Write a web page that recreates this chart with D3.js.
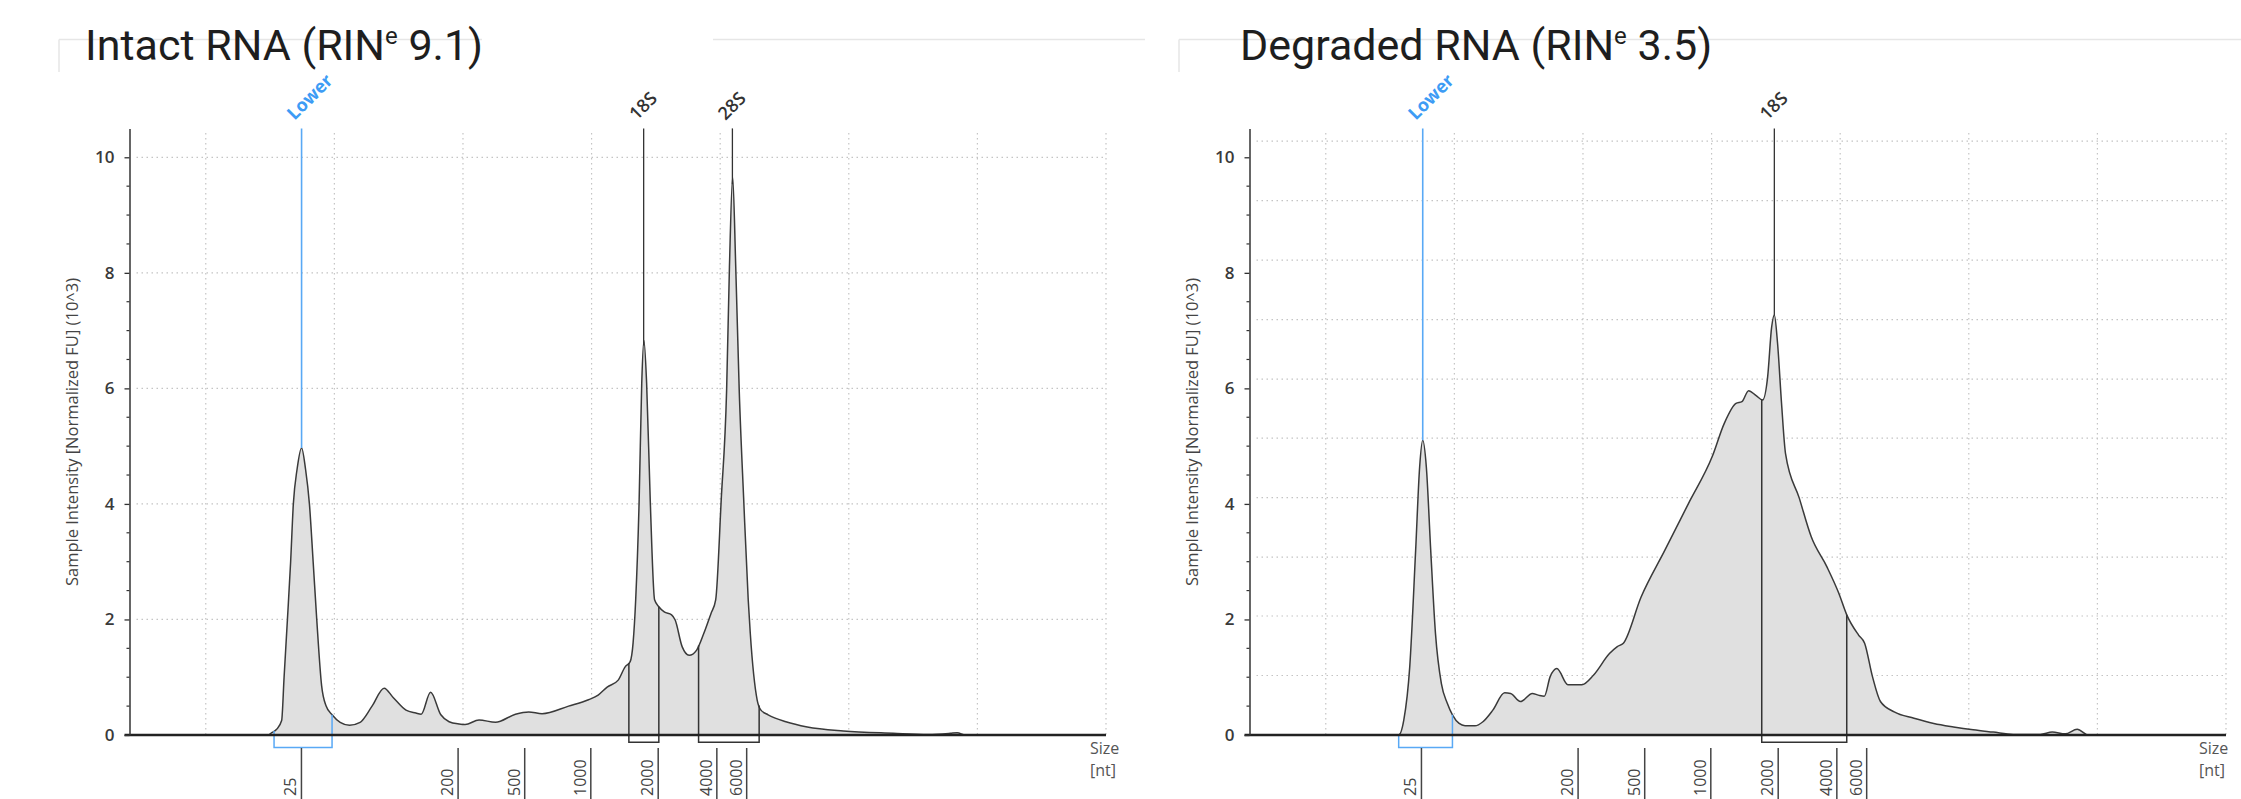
<!DOCTYPE html>
<html>
<head>
<meta charset="utf-8">
<script src="https://cdn.jsdelivr.net/npm/d3@7"></script>
<style>
  body { margin: 0; background: #fff; }
  svg { display: block; }
</style>
</head>
<body>
<svg id="chart" width="2241" height="799"></svg>
<script>
// migration position in grid units (one dotted vertical line every 10), intensity in 10^3 normalized FU
const intactPos = [-5.93, 4.85, 5.13, 5.51, 5.9, 6.09, 6.35, 6.6, 6.81, 7.1, 7.45, 7.76, 8.06, 8.35, 8.63, 9.01, 9.36, 9.82,
  10.45, 11.18, 12.0, 12.93, 13.87, 14.57, 15.57, 16.34, 16.75, 17.48, 18.28, 18.92, 19.7, 20.17, 21.25, 22.53, 24.08,
  25.11, 26.15, 28.21, 29.76, 30.51, 31.21, 32.07, 32.61, 33.0, 33.23, 33.43, 33.7, 33.9, 34.07, 34.28, 34.56, 34.9,
  35.23, 35.65, 36.22, 36.5, 37.04, 37.59, 38.17, 38.73, 39.28, 39.65, 40.08, 40.5, 40.72, 40.97, 41.21, 41.48, 41.83,
  42.18, 42.34, 42.88, 43.17, 43.73, 45.11, 46.77, 49.57, 53.46, 56.18, 57.89, 58.43, 59.06, 70];
const intactFU = [0, 0, 0.04, 0.1, 0.25, 1.0, 2.0, 3.0, 4.0, 4.6, 4.97, 4.6, 4.0, 3.0, 2.0, 0.85, 0.5, 0.35,
  0.22, 0.17, 0.22, 0.5, 0.81, 0.65, 0.43, 0.38, 0.36, 0.74, 0.35, 0.23, 0.19, 0.18, 0.26, 0.22, 0.36,
  0.40, 0.37, 0.50, 0.61, 0.69, 0.83, 0.95, 1.18, 1.27, 1.6, 2.34, 4.07, 6.09, 6.83, 6.09, 4.07, 2.34,
  2.22, 2.13, 2.08, 1.99, 1.53, 1.38, 1.47, 1.76, 2.1, 2.34, 4.07, 5.97, 8.1, 9.66, 8.1, 5.97, 4.07,
  2.34, 1.76, 0.6, 0.43, 0.35, 0.23, 0.14, 0.07, 0.03, 0.01, 0.03, 0.04, 0, 0];

const degradedPos = [-5.93, 5.67, 6.07, 6.53, 6.99, 7.3, 7.54, 7.82, 8.16, 8.53, 8.99, 9.45, 9.85, 10.37, 10.83, 11.6,
  12.22, 12.99, 13.91, 14.37, 15.14, 16.06, 16.53, 16.99, 17.45, 17.97, 18.83, 19.91, 20.83, 22.06, 22.67, 23.14,
  24.52, 26.37, 28.21, 30.05, 30.98, 31.9, 32.36, 32.88, 33.44, 33.97, 34.36, 34.67, 34.88, 35.13, 35.44, 35.75,
  36.82, 37.75, 38.97, 39.9, 40.51, 41.43, 41.9, 42.51, 43.13, 44.2, 45.74, 47.28, 48.81, 50.35, 51.89, 53.46,
  55.56, 56.49, 57.5, 58.43, 59.29, 70];
const degradedFU = [0, 0, 0.26, 1.18, 3.2, 4.64, 5.1, 4.64, 3.2, 1.76, 0.89, 0.55, 0.35, 0.2, 0.16, 0.16,
  0.23, 0.43, 0.73, 0.72, 0.58, 0.72, 0.69, 0.67, 1.01, 1.15, 0.87, 0.87, 1.04, 1.41, 1.53, 1.59,
  2.39, 3.2, 4.01, 4.82, 5.39, 5.74, 5.77, 5.96, 5.88, 5.80, 6.2, 7.06, 7.27, 6.78, 5.74, 4.87,
  4.1, 3.43, 2.91, 2.45, 2.08, 1.73, 1.59, 1.01, 0.58, 0.40, 0.29, 0.2, 0.14, 0.09, 0.05, 0.01,
  0.01, 0.05, 0.02, 0.1, 0, 0];

const intactPeaks = ['Lower', '18S', '28S'];
const intactPeakPos = [7.45, 34.05, 40.95];
const intactRegions = [[5.31, 9.82], [32.9, 35.23], [38.32, 43.03]];

const degradedPeaks = ['Lower', '18S'];
const degradedPeakPos = [7.54, 34.88];
const degradedRegions = [[5.67, 9.85], [33.9, 40.51]];

const ladderSizes = ['25', '200', '500', '1000', '2000', '4000', '6000'];
const ladderPos = [7.44, 19.62, 24.8, 29.94, 35.18, 39.74, 42.06];

const xGrid = [0, 10, 20, 30, 40, 50, 60, 70];
const yTicks = [0, 2, 4, 6, 8, 10];
const intactYGrid = [2, 4, 6, 8, 10];
const degradedYGrid = [1.03, 2.06, 3.08, 4.11, 5.14, 6.16, 7.19, 8.22, 9.25, 10.28];

const svg = d3.select('#chart');

// faint frame edges of the pasted screenshots
const frame = svg.append('g').attr('stroke', '#e6e6e6').attr('stroke-width', 1.5);
[[59, 482], [713, 1145], [1179, 2241]].forEach(([a, b]) => {
    frame.append('line').attr('x1', a).attr('x2', b).attr('y1', 39.5).attr('y2', 39.5);
});
[59, 1179].forEach(xx => {
    frame.append('line').attr('x1', xx).attr('x2', xx).attr('y1', 39.5).attr('y2', 72);
});

function valueAt(pos, vals, p) {
    const i = Math.max(1, Math.min(pos.length - 1, d3.bisectRight(pos, p)));
    const t = (p - pos[i - 1]) / (pos[i] - pos[i - 1]);
    return vals[i - 1] + t * (vals[i] - vals[i - 1]);
}

function drawPanel(options) {
    const { dx, title, ver, pos, vals, peaks, peakPos, regions, yGrid, sizeX } = options;
    const g = svg.append('g').attr('transform', `translate(${dx},0)`);

    const x = d3.scaleLinear().domain([-5.93, 70]).range([129.5, 1106]);
    const y = d3.scaleLinear().domain([0, 10.5]).range([735, 128.4]);

    // title
    const t = g.append('text')
        .attr('x', options.titleX).attr('y', 60)
        .style('font-family', 'Roboto, sans-serif')
        .style('font-size', '43px')
        .style('fill', '#1e1e1e');
    t.append('tspan').text(title + ' (RIN');
    t.append('tspan').attr('dy', -16).style('font-size', '24px').text('e');
    t.append('tspan').attr('dy', 16).text(' ' + ver + ')');

    // grid
    const grid = g.append('g')
        .attr('stroke', '#c4c4c4')
        .attr('stroke-width', 1.2)
        .attr('stroke-dasharray', '1.5,3.5');
    grid.selectAll('.vg').data(xGrid).join('line')
        .attr('x1', d => x(d)).attr('x2', d => x(d))
        .attr('y1', 133).attr('y2', y(0));
    grid.selectAll('.hg').data(yGrid).join('line')
        .attr('x1', x(-5.93) + 7).attr('x2', x(70))
        .attr('y1', d => y(d)).attr('y2', d => y(d));

    // trace
    const area = d3.area()
        .x((d, i) => x(pos[i]))
        .y0(y(0))
        .y1(d => y(d))
        .curve(d3.curveMonotoneX);
    const line = d3.line()
        .x((d, i) => x(pos[i]))
        .y(d => y(d))
        .curve(d3.curveMonotoneX);
    g.append('path').datum(vals).attr('d', area).attr('fill', '#e0e0e0');
    g.append('path').datum(vals).attr('d', line)
        .attr('fill', 'none').attr('stroke', '#3a3a3a').attr('stroke-width', 1.5);

    // peak regions
    regions.forEach(([a, b], i) => {
        const bottom = i === 0 ? 747.5 : 742.3;
        const path = d3.path();
        path.moveTo(x(a), y(valueAt(pos, vals, a)));
        path.lineTo(x(a), bottom);
        path.lineTo(x(b), bottom);
        path.lineTo(x(b), y(valueAt(pos, vals, b)));
        g.append('path').attr('d', path.toString())
            .attr('fill', 'none')
            .attr('stroke', i === 0 ? '#59a9f5' : '#333')
            .attr('stroke-width', 1.5);
    });

    // baseline
    g.append('line')
        .attr('x1', x(-5.93) - 5).attr('x2', x(70))
        .attr('y1', y(0)).attr('y2', y(0))
        .attr('stroke', '#222').attr('stroke-width', 2.4);

    // y axis
    const yAxis = g.append('g')
        .attr('transform', `translate(${x(-5.93)},0)`)
        .call(d3.axisLeft(y).tickValues(yTicks).tickSize(5).tickSizeOuter(0).tickPadding(10));
    yAxis.select('.domain').attr('stroke', '#333').attr('stroke-width', 1.5);
    yAxis.selectAll('.tick line').attr('stroke', '#333').attr('stroke-width', 1.3);
    yAxis.selectAll('.tick text')
        .style('font-family', '"Open Sans", sans-serif')
        .style('font-size', '17px')
        .style('font-weight', 600)
        .style('fill', '#3a3a3a');
    g.append('g').selectAll('line')
        .data(d3.range(1, 21).map(d => d / 2).filter(d => d % 2 !== 0))
        .join('line')
        .attr('x1', x(-5.93) - 3).attr('x2', x(-5.93))
        .attr('y1', d => y(d)).attr('y2', d => y(d))
        .attr('stroke', '#333').attr('stroke-width', 1.2);

    g.append('text')
        .attr('transform', `translate(78,432) rotate(-90)`)
        .attr('text-anchor', 'middle')
        .style('font-family', '"Open Sans", sans-serif')
        .style('font-size', '16.5px')
        .style('fill', '#444')
        .text('Sample Intensity [Normalized FU] (10^3)');

    // size label
    const sl = g.append('text')
        .attr('x', sizeX)
        .style('font-family', '"Open Sans", sans-serif')
        .style('font-size', '16px')
        .style('fill', '#555');
    sl.append('tspan').attr('x', sizeX).attr('y', 754).text('Size');
    sl.append('tspan').attr('x', sizeX).attr('y', 776).text('[nt]');

    // ladder
    g.selectAll('.ladder').data(ladderPos).join('line')
        .attr('x1', d => x(d)).attr('x2', d => x(d))
        .attr('y1', 748).attr('y2', 799)
        .attr('stroke', '#444').attr('stroke-width', 1.5);
    g.selectAll('.ladderText').data(ladderSizes).join('text')
        .attr('transform', (d, i) => `translate(${x(ladderPos[i]) - 5},796) rotate(-90)`)
        .style('font-family', '"Open Sans", sans-serif')
        .style('font-size', '16px')
        .style('fill', '#444')
        .text(d => d);

    // peak markers
    peaks.forEach((name, i) => {
        const px = x(peakPos[i]);
        const color = name === 'Lower' ? '#59a9f5' : '#333';
        g.append('line')
            .attr('x1', px).attr('x2', px)
            .attr('y1', 128.4).attr('y2', y(valueAt(pos, vals, peakPos[i])))
            .attr('stroke', color).attr('stroke-width', name === 'Lower' ? 1.6 : 1.3);
        g.append('text')
            .attr('transform', `translate(${px - 7},121) rotate(-45)`)
            .style('font-family', '"Open Sans", sans-serif')
            .style('font-size', '18px')
            .style('font-weight', name === 'Lower' ? 700 : 600)
            .style('fill', name === 'Lower' ? '#3d9cf5' : '#333')
            .text(name);
    });
}

drawPanel({
    dx: 0, title: 'Intact RNA', ver: '9.1', titleX: 85,
    pos: intactPos, vals: intactFU,
    peaks: intactPeaks, peakPos: intactPeakPos, regions: intactRegions,
    yGrid: intactYGrid, sizeX: 1090
});

drawPanel({
    dx: 1120, title: 'Degraded RNA', ver: '3.5', titleX: 120,
    pos: degradedPos, vals: degradedFU,
    peaks: degradedPeaks, peakPos: degradedPeakPos, regions: degradedRegions,
    yGrid: degradedYGrid, sizeX: 1079
});
</script>
</body>
</html>
